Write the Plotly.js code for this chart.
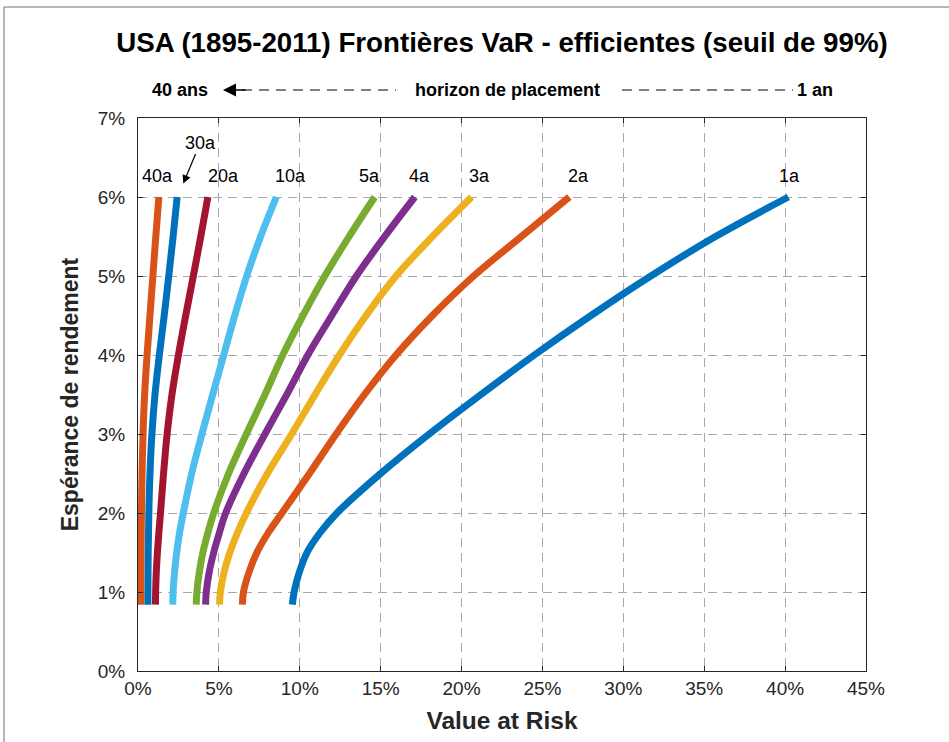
<!DOCTYPE html>
<html>
<head>
<meta charset="utf-8">
<script src="https://cdn.plot.ly/plotly-3.0.1.min.js"></script>
<style>html,body{margin:0;padding:0;background:#fff;}#chart{width:949px;height:742px;}</style>
</head>
<body>
<div id="chart"></div>
<script>
// Expected return levels (%) at which VaR values were read
const RET = [0.84, 1.0, 1.25, 1.5, 1.75, 2.0, 2.5, 3.0, 3.5, 4.0, 4.5, 5.0, 5.5, 6.0];
// VaR (%) per investment horizon
const var1a  = [9.54, 9.65, 9.97, 10.45, 11.25, 12.3, 15.0, 18.0, 21.2, 24.5, 28.0, 31.7, 35.7, 40.2];
const var2a  = [6.45, 6.52, 6.86, 7.35, 8.05, 8.9, 10.6, 12.25, 14.0, 15.95, 18.2, 20.75, 23.7, 26.66];
const var3a  = [5.04, 5.09, 5.32, 5.68, 6.15, 6.70, 8.0, 9.5, 10.95, 12.45, 14.1, 15.95, 18.2, 20.62];
const var4a  = [4.18, 4.22, 4.40, 4.68, 5.03, 5.42, 6.55, 7.85, 9.2, 10.5, 11.98, 13.5, 15.25, 17.11];
const var5a  = [3.60, 3.64, 3.79, 4.01, 4.32, 4.68, 5.6, 6.7, 7.85, 8.95, 10.2, 11.55, 13.05, 14.63];
const var10a = [2.15, 2.17, 2.26, 2.39, 2.57, 2.8, 3.32, 3.95, 4.62, 5.3, 5.98, 6.72, 7.58, 8.55];
const var20a = [1.08, 1.09, 1.13, 1.20, 1.29, 1.39, 1.58, 1.80, 2.1, 2.5, 2.95, 3.42, 3.88, 4.32];
const var30a = [0.61, 0.61, 0.62, 0.63, 0.65, 0.67, 0.74, 0.86, 1.05, 1.32, 1.62, 1.9, 2.17, 2.42];
const var40a = [0.17, 0.17, 0.18, 0.19, 0.20, 0.21, 0.25, 0.31, 0.41, 0.56, 0.74, 0.92, 1.10, 1.29];

const seriesNames = ['1a','2a','3a','4a','5a','10a','20a','30a','40a'];
const seriesVals = [var1a, var2a, var3a, var4a, var5a, var10a, var20a, var30a, var40a];
const colors = ['#0072BD','#D95319','#EDB120','#7E2F8E','#77AC30','#4DBEEE','#A2142F','#0072BD','#D95319'];

// curve labels (x = VaR %, y = return %)
const labelText = ['1a','2a','3a','4a','5a','10a','20a','40a'];
const labelX    = [40.3, 27.2, 21.1, 17.4, 14.3, 9.4, 5.3, 1.2];
const labelY    = 6.26;

const xTicks = [0,5,10,15,20,25,30,35,40,45];
const xTickText = ['0%','5%','10%','15%','20%','25%','30%','35%','40%','45%'];
const yTicks = [0,1,2,3,4,5,6,7];
const yTickText = ['0%','1%','2%','3%','4%','5%','6%','7%'];

const FONT = 'Liberation Sans, Arial, Helvetica, sans-serif';

const traces = seriesNames.map((n, i) => ({
  type: 'scatter', mode: 'lines', name: n,
  x: seriesVals[i], y: RET,
  line: {color: colors[i], width: 7, shape: 'spline', smoothing: 1},
  hoverinfo: 'skip'
}));

// pixel helpers for paper coordinates
const L = 138, R = 83, T = 118, B = 71, W = 949, H = 742;
const PW = W - L - R, PH = H - T - B;
const px = p => (p - L) / PW;
const py = p => (H - B - p) / PH;

const annotations = labelText.map((t, i) => ({
  x: labelX[i], y: labelY, xref: 'x', yref: 'y', text: t, showarrow: false,
  font: {family: FONT, size: 18, color: '#000'}
}));
annotations.push({
  x: 2.8, y: 6.17, xref: 'x', yref: 'y', text: '30a', showarrow: true,
  ax: 17, ay: -41, arrowhead: 2, arrowsize: 1.4, arrowwidth: 1.2, arrowcolor: '#000',
  font: {family: FONT, size: 18, color: '#000'}
});
// subtitle row
const subY = py(90);
const subFont = {family: FONT, size: 18, color: '#000'};
annotations.push({x: px(180), y: subY, xref: 'paper', yref: 'paper', xanchor: 'center', yanchor: 'middle', text: '<b>40 ans</b>', showarrow: false, font: subFont});
annotations.push({x: px(507), y: subY, xref: 'paper', yref: 'paper', xanchor: 'center', yanchor: 'middle', text: '<b>horizon de placement</b>', showarrow: false, font: subFont});
annotations.push({x: px(815), y: subY, xref: 'paper', yref: 'paper', xanchor: 'center', yanchor: 'middle', text: '<b>1 an</b>', showarrow: false, font: subFont});
annotations.push({x: px(223), y: subY, xref: 'paper', yref: 'paper', text: '', showarrow: true,
  ax: 24, ay: 0, arrowhead: 2, arrowsize: 2, arrowwidth: 1.3, arrowcolor: '#000'});

const shapes = [
  {type: 'line', xref: 'paper', yref: 'paper', x0: px(242), x1: px(396), y0: subY, y1: subY,
   line: {color: '#000', width: 1, dash: '10px,7px'}},
  {type: 'line', xref: 'paper', yref: 'paper', x0: px(622), x1: px(793), y0: subY, y1: subY,
   line: {color: '#000', width: 1, dash: '10px,7px'}},
  {type: 'rect', xref: 'paper', yref: 'paper', x0: px(4), x1: px(1000), y0: py(800), y1: py(7),
   line: {color: '#707070', width: 1}, fillcolor: 'rgba(0,0,0,0)', layer: 'below'}
];

const axisCommon = {
  showline: true, linecolor: '#262626', linewidth: 1, mirror: 'ticks',
  ticks: 'inside', ticklen: 5, tickcolor: '#262626', tickwidth: 1,
  showgrid: true, gridcolor: '#a8a8a8', gridwidth: 1, griddash: '9px,6px',
  zeroline: false, tickfont: {family: FONT, size: 19, color: '#262626'},
  tickmode: 'array'
};

const layout = {
  width: W, height: H, margin: {l: L, r: R, t: T, b: B},
  paper_bgcolor: '#fff', plot_bgcolor: '#fff', showlegend: false,
  title: {text: '<b>USA (1895-2011) Frontières VaR - efficientes (seuil de 99%)</b>',
    font: {family: FONT, size: 27.7, color: '#000'}, xref: 'paper', x: 0.5, xanchor: 'center',
    yref: 'container', y: 1 - 42 / H, yanchor: 'middle'},
  xaxis: Object.assign({}, axisCommon, {range: [0, 45], tickvals: xTicks, ticktext: xTickText,
    title: {text: '<b>Value at Risk</b>', font: {family: FONT, size: 24.5, color: '#262626'}, standoff: 14}}),
  yaxis: Object.assign({}, axisCommon, {range: [0, 7], tickvals: yTicks, ticktext: yTickText, ticklabelstandoff: 8,
    title: {text: '<b>Espérance de rendement</b>', font: {family: FONT, size: 23, color: '#262626'}, standoff: 12}}),
  annotations: annotations, shapes: shapes
};

Plotly.newPlot('chart', traces, layout, {displayModeBar: false, staticPlot: true});
</script>
</body>
</html>
